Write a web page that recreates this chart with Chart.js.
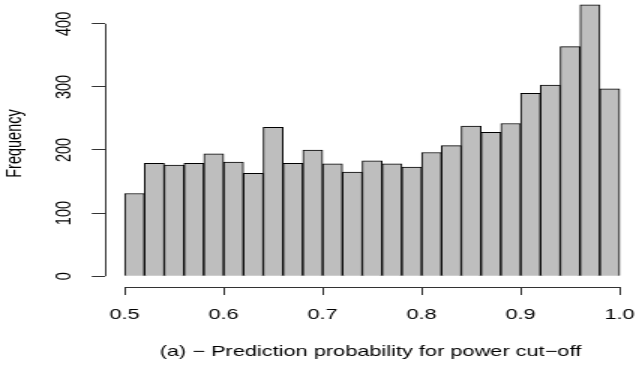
<!DOCTYPE html>
<html>
<head>
<meta charset="utf-8">
<script src="https://cdn.jsdelivr.net/npm/chart.js@4.4.1/dist/chart.umd.min.js"></script>
<style>
  html, body { margin: 0; padding: 0; background: #fff; overflow: hidden; }
  /* the reference is a narrower R plot stretched sideways, so draw narrow and stretch */
  #wrap { width: 424px; height: 365px; transform: scaleX(1.5); transform-origin: 0 0; }
</style>
</head>
<body>
<div id="wrap"><canvas id="histChart"></canvas></div>
<script>
// histogram bins, 0.02 wide, from 0.50 to 1.00 (midpoints)
const binMids = [0.51, 0.53, 0.55, 0.57, 0.59, 0.61, 0.63, 0.65, 0.67, 0.69,
                 0.71, 0.73, 0.75, 0.77, 0.79, 0.81, 0.83, 0.85, 0.87, 0.89,
                 0.91, 0.93, 0.95, 0.97, 0.99];
const counts = [131, 179, 176, 179, 194, 181, 163, 236, 179, 200,
                178, 165, 183, 178, 173, 196, 207, 238, 228, 242,
                290, 303, 364, 430, 297];
const xTicks = [0.5, 0.6, 0.7, 0.8, 0.9, 1.0];
const yTicks = [0, 100, 200, 300, 400];

const fam = "'Liberation Sans', Arial, Helvetica, sans-serif";

// R style axis lines: only from first to last tick
const axisLines = {
    id: 'axisLines',
    afterDraw(chart) {
        const {ctx, chartArea, scales} = chart;
        const x = scales.x, y = scales.y;
        ctx.save();
        ctx.strokeStyle = '#333';
        ctx.lineWidth = 1;
        ctx.beginPath();
        const ax = Math.round(chartArea.left) + 0.5;
        ctx.moveTo(ax, y.getPixelForValue(yTicks[0]));
        ctx.lineTo(ax, y.getPixelForValue(yTicks[yTicks.length - 1]));
        const ay = Math.round(chartArea.bottom) + 0.5;
        ctx.moveTo(x.getPixelForValue(xTicks[0]), ay);
        ctx.lineTo(x.getPixelForValue(xTicks[xTicks.length - 1]), ay);
        ctx.stroke();
        ctx.restore();
    }
};

const ctx = document.getElementById('histChart').getContext('2d');
const histChart = new Chart(ctx, {
    type: 'bar',
    data: {
        datasets: [{
            label: 'Frequency',
            data: binMids.map((m, i) => ({x: m, y: counts[i]})),
            backgroundColor: '#bebebe',
            borderColor: '#000',
            borderWidth: 1,
            barPercentage: 1,
            categoryPercentage: 1
        }]
    },
    options: {
        responsive: true,
        maintainAspectRatio: false,
        animation: false,
        layout: { padding: 0 },
        plugins: {
            legend: { display: false },
            tooltip: { enabled: false }
        },
        scales: {
            x: {
                type: 'linear',
                min: 0.48,
                max: 1.0165,
                offset: false,
                afterBuildTicks: s => { s.ticks = xTicks.map(v => ({value: v})); },
                afterFit: s => { s.height = 78; s.paddingLeft = 0; s.paddingRight = 0; },
                border: { display: false },
                grid: { drawOnChartArea: false, drawTicks: true, tickLength: 8, color: '#333', offset: false },
                ticks: {
                    color: '#000', font: { family: fam, size: 14.5 }, padding: 11.5,
                    maxRotation: 0, autoSkip: false,
                    callback: v => Number(v).toFixed(1)
                },
                title: {
                    display: true,
                    text: '(a) \u2212 Prediction probability for power cut\u2212off',
                    color: '#000', font: { family: fam, size: 14.5 },
                    padding: { top: 0, bottom: 4.5 }
                }
            },
            y: {
                min: -17.2,
                max: 437.8,
                afterBuildTicks: s => { s.ticks = yTicks.map(v => ({value: v})); },
                afterFit: s => { s.width = 69.9; s.paddingTop = 0; s.paddingBottom = 0; },
                border: { display: false },
                grid: { drawOnChartArea: false, drawTicks: true, tickLength: 8.7, color: '#333' },
                ticks: {
                    color: '#000', font: { family: fam, size: 14.5 }, padding: 6,
                    minRotation: 90, maxRotation: 90, crossAlign: 'center', autoSkip: false
                },
                title: {
                    display: true, text: 'Frequency',
                    color: '#000', font: { family: fam, size: 14.5 },
                    padding: { top: 1.3, bottom: 0 }
                }
            }
        }
    },
    plugins: [axisLines]
});
</script>
</body>
</html>
